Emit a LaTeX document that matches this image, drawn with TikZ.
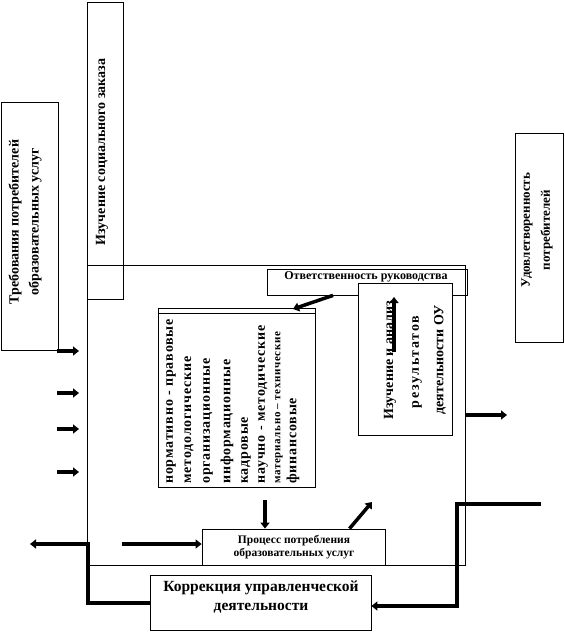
\documentclass[tikz,border=0pt]{standalone}
\usepackage{fontspec}
\setmainfont{Liberation Serif}
\usetikzlibrary{arrows.meta}
\begin{document}
\begin{tikzpicture}[x=1pt,y=-1pt,
  box/.style={draw, line width=0.8pt, inner sep=0pt},
  lbl/.style={inner sep=0pt, align=center},
  thk/.style={line width=3.5pt, -{Triangle[length=6pt,width=9pt]}},
  fb/.style={line width=4pt, -{Triangle[length=6pt,width=9pt]}}]
\useasboundingbox (0,0) rectangle (565,638);
% boxes
\node[box, minimum width=378pt, minimum height=300pt] (main) at (276,415) {};
\node[box, rotate=90, minimum width=297pt, minimum height=36pt] (soc) at (105,150.5) {};
\node[box, rotate=90, minimum width=248pt, minimum height=57pt] (req) at (29.5,226) {};
\node[box, rotate=90, minimum width=209pt, minimum height=48pt] (sat) at (539,237.5) {};
\node[box, minimum width=200pt, minimum height=26pt] (resp) at (367,282) {};
\node[box, fill=white, minimum width=94pt, minimum height=152pt] (res) at (405,359) {};
\node[box, minimum width=157pt, minimum height=179pt] (inner) at (236.5,397.5) {};
\draw[line width=0.8pt] ([yshift=-6pt]inner.north west) -- ([yshift=-6pt]inner.north east);
\node[box, fill=white, minimum width=183pt, minimum height=36pt] (proc) at (293.5,547) {};
\node[box, minimum width=221pt, minimum height=55pt] (corr) at (260.5,602.5) {};
% texts
\node[lbl, rotate=90, font=\bfseries\fontsize{14}{20}\selectfont] (soct) at (102,152) {Изучение социального заказа};
\node[lbl, rotate=90, font=\bfseries\fontsize{14}{20}\selectfont] (reqt) at (25,222) {Требования потребителей\\образовательных услуг};
\node[lbl, rotate=90, font=\bfseries\fontsize{13}{20}\selectfont] (satt) at (537,230) {Удовлетворенность\\потребителей};
\node[lbl, font=\bfseries\fontsize{12}{14}\selectfont] (respt) at (366,277) {Ответственность руководства};
\node[lbl, rotate=90, font=\bfseries\fontsize{14}{16}\selectfont] (rest1) at (390,360) {Изучение и анализ};
\node[lbl, rotate=90, font=\bfseries\fontsize{14}{16}\selectfont\addfontfeatures{LetterSpace=12}] (rest2) at (417,362) {результатов};
\node[lbl, rotate=90, font=\bfseries\fontsize{14}{16}\selectfont] (rest3) at (440,360) {деятельности ОУ};
\begin{scope}[every node/.style={lbl, rotate=90, anchor=west, font=\bfseries\fontsize{14}{15}\selectfont\addfontfeatures{LetterSpace=6}}]
\node (l1) at (171,484) {нормативно - правовые};
\node (l2) at (189,484) {методологические};
\node (l3) at (208,484) {организационные};
\node (l4) at (227,484) {информационные};
\node (l5) at (246,484) {кадровые};
\node (l6) at (263,484) {научно - методические};
\node[font=\bfseries\fontsize{11}{13}\selectfont\addfontfeatures{LetterSpace=6}] (l7) at (279,484) {материально – технические};
\node (l8) at (293,484) {финансовые};
\end{scope}
\node[lbl, font=\bfseries\fontsize{11.5}{12.5}\selectfont] (proct) at (294,547) {Процесс потребления\\образовательных услуг};
\node[lbl, font=\bfseries\fontsize{15.5}{19}\selectfont] (corrt) at (261,597) {Коррекция управленческой\\деятельности};
% connectors
\foreach \yy [count=\i] in {351,393,429,472} {
  \coordinate (in\i s) at (57,\yy);
  \coordinate (in\i e) at (79,\yy);
  \draw[thk] (in\i s) -- (in\i e);
}
\coordinate (dn) at (265,500);
\draw[thk] (dn) -- (dn |- proc.north);
\coordinate (dg) at (372,502);
\draw[thk] ([xshift=56pt]proc.north) -- (dg);
\coordinate (hin) at (122,544);
\draw[thk] (hin) -- (hin -| proc.west);
\coordinate (lout) at (30,544);
\coordinate (lbend) at (88,544);
\draw[fb] (corr.west) -| (lbend) -- (lout);
\coordinate (rin) at (541,504);
\coordinate (cy) at (457,606);
\draw[fb] (rin) -| (cy) -- (corr.east |- cy);
\coordinate (outr) at (507,415);
\draw[thk] (main.east |- outr) -- (outr);
\coordinate (ri) at (293,309);
\draw[thk] ([xshift=-34pt]resp.south) -- (ri);
\coordinate (ra1) at (394,352);
\coordinate (ra2) at (394,297);
\draw[thk] (ra1) -- (ra2);
\end{tikzpicture}
\end{document}
